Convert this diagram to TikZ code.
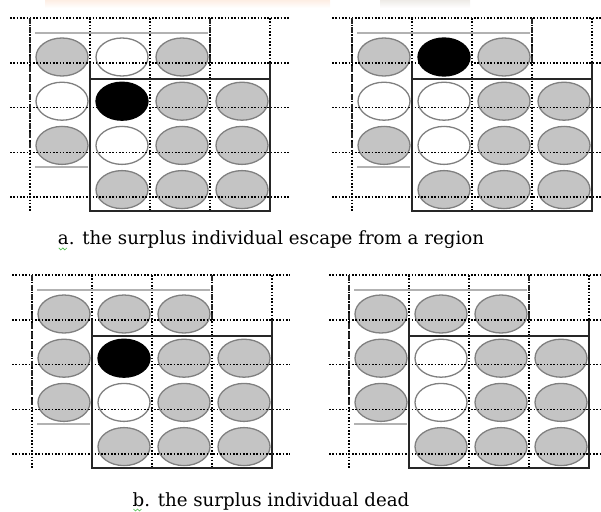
\documentclass[tikz,border=0pt]{standalone}
\usepackage{fontspec}
\setmainfont{DejaVu Serif}
\usetikzlibrary{shapes.geometric, positioning}

\definecolor{ballfill}{RGB}{196,196,196}
\definecolor{ballline}{RGB}{128,128,128}
\definecolor{thinrule}{RGB}{178,178,178}
\definecolor{topband}{RGB}{253,238,228}
\definecolor{topgrey}{RGB}{238,235,231}

\tikzset{
    gridline/.style={draw=black, line width=1.6pt, dash pattern=on 1.6pt off 1.7pt},
    cellwall/.style={draw=black!85, line width=2.6pt, dash pattern=on 6pt off 3.5pt},
    regionbox/.style={draw=black!85, line width=2pt},
    faintrule/.style={draw=thinrule, line width=1.1pt},
    ballbase/.style={ellipse, minimum width=52pt, minimum height=38pt, inner sep=0pt, line width=1.3pt, draw=ballline},
    ballgray/.style={ballbase, fill=ballfill},
    ballwhite/.style={ballbase, fill=white},
    ballblack/.style={ballbase, fill=black, draw=black},
    caption/.style={font=\fontsize{18.2}{22}\selectfont, text=black, inner sep=0pt},
    squiggle/.style={draw=green!45!gray, line width=0.6pt}
}

% dotted cells, old region (dashed) and new region (solid), #1 = right end
\newcommand{\regiongrid}[1]{%
    \foreach \gy in {0,44.8,89.6,134.4,179.2}
        \draw[gridline] (-20,\gy) -- (#1,\gy);
    \foreach \gx in {0,60,...,240}
        \draw[gridline] (\gx,0) -- (\gx,194);
    \draw[cellwall] (0,0) -- (0,134);
    \draw[cellwall] (180,0) -- (180,45);
    \draw[faintrule] (5,15) -- (178,15);
    \draw[faintrule] (5,149) -- (58,149);
    \draw[regionbox] (60,45) -- (60,193) -- (240,193) -- (240,45);
    \draw[regionbox] (60,61) -- (240,61);
}

\begin{document}
\begin{tikzpicture}[x=1pt, y=-1pt]
        \useasboundingbox (0,0) rectangle (601,511);

        % faded band at the top edge
        \shade[top color=topband, bottom color=white] (45,0) rectangle (330,8);
        \shade[top color=topgrey, bottom color=white] (380,0) rectangle (470,8);

        % -----------------------------------------------------------------
        % a. ESCAPE: BEFORE
        % -----------------------------------------------------------------
        \begin{scope}[shift={(30,18)}]
            \foreach \c/\r/\kind in {1/1/ballgray, 2/1/ballwhite, 3/1/ballgray,
                    1/2/ballwhite, 2/2/ballblack, 3/2/ballgray, 4/2/ballgray,
                    1/3/ballgray, 2/3/ballwhite, 3/3/ballgray, 4/3/ballgray,
                    2/4/ballgray, 3/4/ballgray, 4/4/ballgray}
                \node[\kind] (aL-\c-\r) at ({32+60*(\c-1)}, {39+44.2*(\r-1)}) {};
            \regiongrid{260}
        \end{scope}

        % -----------------------------------------------------------------
        % a. ESCAPE: AFTER
        % -----------------------------------------------------------------
        \begin{scope}[shift={(352,18)}]
            \foreach \c/\r/\kind in {1/1/ballgray, 2/1/ballblack, 3/1/ballgray,
                    1/2/ballwhite, 2/2/ballwhite, 3/2/ballgray, 4/2/ballgray,
                    1/3/ballgray, 2/3/ballwhite, 3/3/ballgray, 4/3/ballgray,
                    2/4/ballgray, 3/4/ballgray, 4/4/ballgray}
                \node[\kind] (aR-\c-\r) at ({32+60*(\c-1)}, {39+44.2*(\r-1)}) {};
            \regiongrid{249}
        \end{scope}

        \node[caption] (capA) at (271,240) {a. the surplus individual escape from a region};
        \draw[squiggle] ([shift={(1,3)}]capA.base west) -- ++(2,2) -- ++(2,-2) -- ++(2,2) -- ++(2,-2);

        % -----------------------------------------------------------------
        % b. DEAD: BEFORE
        % -----------------------------------------------------------------
        \begin{scope}[shift={(32,275)}]
            \foreach \c/\r/\kind in {1/1/ballgray, 2/1/ballgray, 3/1/ballgray,
                    1/2/ballgray, 2/2/ballblack, 3/2/ballgray, 4/2/ballgray,
                    1/3/ballgray, 2/3/ballwhite, 3/3/ballgray, 4/3/ballgray,
                    2/4/ballgray, 3/4/ballgray, 4/4/ballgray}
                \node[\kind] (bL-\c-\r) at ({32+60*(\c-1)}, {39+44.2*(\r-1)}) {};
            \regiongrid{258}
        \end{scope}

        % -----------------------------------------------------------------
        % b. DEAD: AFTER
        % -----------------------------------------------------------------
        \begin{scope}[shift={(349,275)}]
            \foreach \c/\r/\kind in {1/1/ballgray, 2/1/ballgray, 3/1/ballgray,
                    1/2/ballgray, 2/2/ballwhite, 3/2/ballgray, 4/2/ballgray,
                    1/3/ballgray, 2/3/ballwhite, 3/3/ballgray, 4/3/ballgray,
                    2/4/ballgray, 3/4/ballgray, 4/4/ballgray}
                \node[\kind] (bR-\c-\r) at ({32+60*(\c-1)}, {39+44.2*(\r-1)}) {};
            \regiongrid{252}
        \end{scope}

        \node[caption] (capB) at (271,501) {b. the surplus individual dead};
        \draw[squiggle] ([shift={(1,3)}]capB.base west) -- ++(2,2) -- ++(2,-2) -- ++(2,2) -- ++(2,-2);

\end{tikzpicture}
\end{document}
